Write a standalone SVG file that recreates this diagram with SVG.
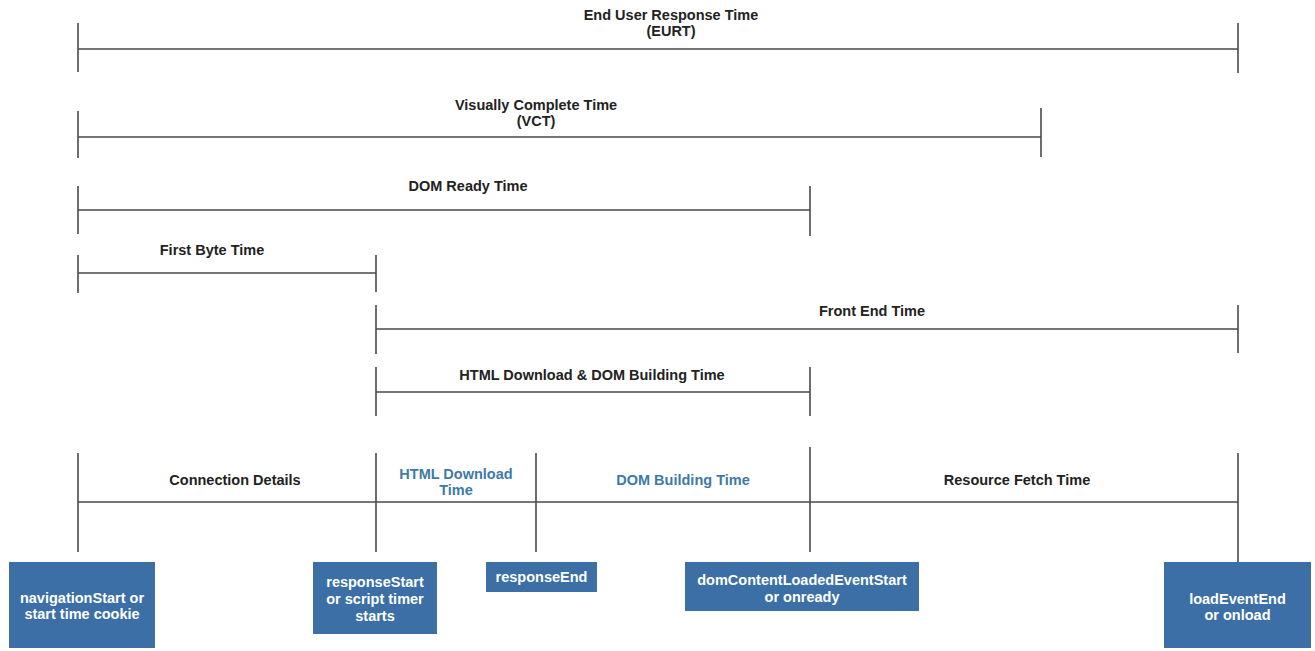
<svg xmlns="http://www.w3.org/2000/svg" width="1315" height="651" viewBox="0 0 1315 651">
<style>
.ln{stroke:#4a4a4a;stroke-width:1.6;fill:none}
.t{font-family:"Liberation Sans",Arial,sans-serif;font-weight:bold;font-size:14.5px;fill:#222;text-anchor:middle}
.b{fill:#3f7aa6}
.w{fill:#ffffff}
.box{fill:#3b6fa5}
</style>
<rect width="1315" height="651" fill="#ffffff"/>
<g id="connectors">
  <!-- EURT -->
  <path class="ln" d="M78 49H1238M78 23V72M1238 23V73"/>
  <!-- VCT -->
  <path class="ln" d="M78 137H1041M78 111V158M1041 108V157"/>
  <!-- DOM Ready -->
  <path class="ln" d="M78 210H810M78 186V234M810 186V236"/>
  <!-- First Byte -->
  <path class="ln" d="M78 273H376M78 255V293M376 255V292"/>
  <!-- Front End -->
  <path class="ln" d="M376 329H1238M376 305V354M1238 305V353"/>
  <!-- HTML DL & DOM -->
  <path class="ln" d="M376 392H810M376 367V416M810 367V416"/>
  <!-- bottom timeline -->
  <path class="ln" d="M78 502H1238M78 453V552M376 453V552M536 453V552M810 447V552M1238 453V562"/>
</g>
<g id="labels">
  <text class="t" x="671" y="20">End User Response Time</text>
  <text class="t" x="671" y="36">(EURT)</text>
  <text class="t" x="536" y="110">Visually Complete Time</text>
  <text class="t" x="536" y="126">(VCT)</text>
  <text class="t" x="468" y="191">DOM Ready Time</text>
  <text class="t" x="212" y="255">First Byte Time</text>
  <text class="t" x="872" y="316">Front End Time</text>
  <text class="t" x="592" y="380">HTML Download &amp; DOM Building Time</text>
  <text class="t" x="235" y="485">Connection Details</text>
  <text class="t b" x="456" y="479">HTML Download</text>
  <text class="t b" x="456" y="495">Time</text>
  <text class="t b" x="683" y="485">DOM Building Time</text>
  <text class="t" x="1017" y="485">Resource Fetch Time</text>
</g>
<g id="navigationStart">
  <rect class="box" x="9" y="562" width="146" height="86"/>
  <text class="t w" x="82" y="603">navigationStart or</text>
  <text class="t w" x="82" y="619">start time cookie</text>
</g>
<g id="responseStart">
  <rect class="box" x="313" y="562" width="124" height="72"/>
  <text class="t w" x="375" y="587">responseStart</text>
  <text class="t w" x="375" y="604">or script timer</text>
  <text class="t w" x="375" y="621">starts</text>
</g>
<g id="responseEnd">
  <rect class="box" x="486" y="562" width="111" height="30"/>
  <text class="t w" x="541.5" y="582">responseEnd</text>
</g>
<g id="domContentLoaded">
  <rect class="box" x="685" y="562" width="234" height="49"/>
  <text class="t w" x="802" y="585">domContentLoadedEventStart</text>
  <text class="t w" x="802" y="602">or onready</text>
</g>
<g id="loadEventEnd">
  <rect class="box" x="1164" y="562" width="147" height="86"/>
  <text class="t w" x="1237.5" y="604">loadEventEnd</text>
  <text class="t w" x="1237.5" y="620">or onload</text>
</g>
</svg>
